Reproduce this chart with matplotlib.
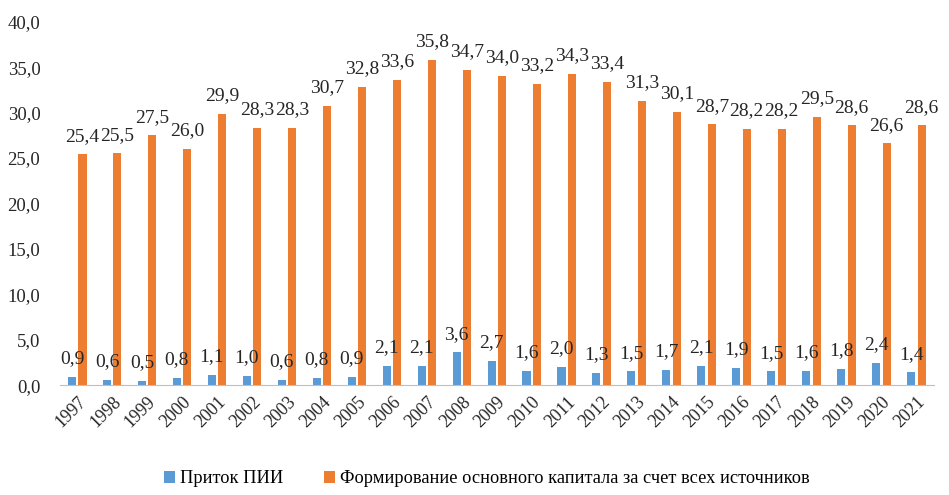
import matplotlib.pyplot as plt
import numpy as np

plt.rcParams['font.family'] = ['Liberation Serif', 'DejaVu Serif']

years = [str(y) for y in range(1997, 2022)]
fdi = [0.9, 0.6, 0.5, 0.8, 1.1, 1.0, 0.6, 0.8, 0.9, 2.1, 2.1, 3.6, 2.7,
       1.6, 2.0, 1.3, 1.5, 1.7, 2.1, 1.9, 1.5, 1.6, 1.8, 2.4, 1.4]
capital = [25.4, 25.5, 27.5, 26.0, 29.9, 28.3, 28.3, 30.7, 32.8, 33.6, 35.8,
           34.7, 34.0, 33.2, 34.3, 33.4, 31.3, 30.1, 28.7, 28.2, 28.2, 29.5,
           28.6, 26.6, 28.6]
yticks = [0, 5, 10, 15, 20, 25, 30, 35, 40]

blue = "#5B9BD5"
orange = "#ED7D31"

def fmt(v):
    return ("%.1f" % v).replace(".", ",")

fig = plt.figure(figsize=(9.49, 4.95), dpi=100)
ax = fig.add_axes([0.063, 0.222, 0.921, 0.734])

x = np.arange(len(years))
w = 0.23
off = 0.15
b1 = ax.bar(x - off, fdi, w, color=blue, label="Приток ПИИ")
b2 = ax.bar(x + off, capital, w, color=orange,
            label="Формирование основного капитала за счет всех источников")

for bars, vals in [(b1, fdi), (b2, capital)]:
    for r, v in zip(bars, vals):
        ax.annotate(fmt(v), (r.get_x() + r.get_width() / 2, v),
                    xytext=(0, 7), textcoords="offset points",
                    ha="center", va="bottom", fontsize=14, color="#262626")

ax.set_xlim(-0.5, len(years) - 0.5)
ax.set_ylim(0, 40)
ax.set_yticks(yticks)
ax.set_yticklabels([fmt(v) for v in yticks], fontsize=13.5, color="#262626")
ax.set_xticks(x)
ax.set_xticklabels(years, rotation=45, ha="right", va="top",
                   rotation_mode="anchor", fontsize=13, color="#262626")
ax.tick_params(axis="both", length=0)
ax.tick_params(axis="x", pad=6)
ax.tick_params(axis="y", pad=14)

for s in ["top", "right", "left"]:
    ax.spines[s].set_visible(False)
ax.spines["bottom"].set_color("#BFBFBF")

fig.legend(loc="lower center", bbox_to_anchor=(0.513, -0.018), ncol=2,
           frameon=False, fontsize=13.2, handlelength=0.6, handleheight=0.6,
           handletextpad=0.3, columnspacing=2.2)

fig.savefig("out.png", dpi=100)
